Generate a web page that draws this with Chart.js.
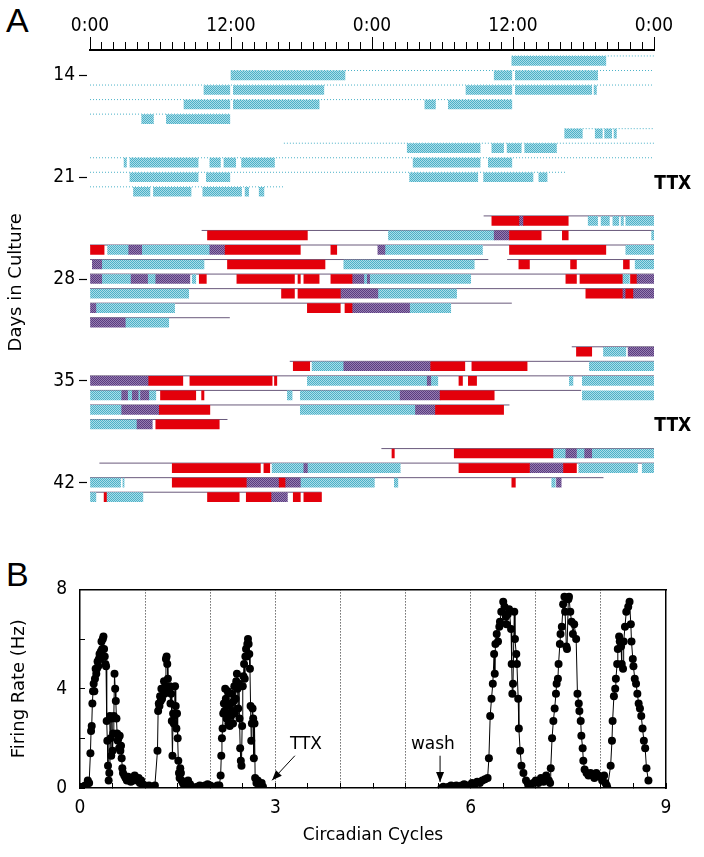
<!DOCTYPE html>
<html>
<head>
<meta charset="utf-8">
<script src="https://cdn.jsdelivr.net/npm/chart.js@4.4.1/dist/chart.umd.min.js"></script>
<style>
  body { margin: 0; background: #fff; }
  #wrap { position: relative; width: 704px; height: 857px; overflow: hidden; }
  canvas { position: absolute; left: 0; }
  .panel { position: absolute; left: 6px; font: 34px 'Liberation Sans', Arial, sans-serif; line-height: 34px; color: #000; }
</style>
</head>
<body>
<div id="wrap">
  <div class="panel" style="top:3px">A</div>
  <div class="panel" style="top:557px">B</div>
  <canvas id="acto" width="704" height="530" style="top:0"></canvas>
  <canvas id="rate" width="704" height="297" style="top:560px"></canvas>
</div>
<script>
// ---- Panel A: double-plotted actogram, [day, start hour, end hour] ----
const hourTicks = [0, 12, 24, 36, 48];
const timeLabels = ['0:00', '12:00', '0:00', '12:00', '0:00'];
const dayTicks = [14, 21, 28, 35, 42];

const cyanBars = [
  [13,35.9,43.9],
  [14,12,21.7],[14,34.4,35.9],[14,36.2,43.2],
  [15,9.7,11.9],[15,12.2,19.9],[15,32,35.9],[15,36.2,42.7],[15,42.9,43.1],
  [16,8,11.9],[16,12.2,19.5],[16,28.5,29.4],[16,30.5,35.9],
  [17,4.4,5.4],[17,6.5,11.9],
  [18,40.4,41.9],[18,43,43.6],[18,43.8,44.4],[18,44.6,44.8],
  [19,27,33.2],[19,34.2,35.2],[19,35.5,36.7],[19,37,39.7],
  [20,2.9,3.1],[20,3.4,9.2],[20,10.2,11.1],[20,11.4,12.4],[20,12.9,15.7],[20,27.5,33.2],[20,33.9,35.9],
  [21,3.4,9.2],[21,9.9,11.9],[21,27.2,33],[21,33.5,37.7],[21,38.2,38.9],
  [22,3.7,5.1],[22,5.4,8.6],[22,9.6,12.9],[22,13.2,13.5],[22,14.4,14.8],
  [24,42.4,43.2],[24,43.5,44.2],[24,44.5,45],[24,45.2,45.4],[24,45.6,48],
  [25,25.4,34.4],[25,47.8,48],
  [26,1.5,3.3],[26,4.4,10.2],[26,25.1,33.4],[26,45.6,48],
  [27,1,9.7],[27,21.6,32.7],[27,46.4,48],
  [28,1,3.5],[28,4.9,5.6],[28,8.7,9],[28,23.3,23.6],[28,23.8,32.4],[28,45.3,45.9],
  [29,0,8.4],[29,24.5,31.2],
  [30,0.5,7.2],[30,27.2,30.7],
  [31,3,6.7],
  [33,43.7,45.6],
  [34,18.9,21.6],[34,42.5,48],
  [35,18.5,28.7],[35,29,29.6],[35,40.8,41.1],[35,41.9,48],
  [36,0,2.7],[36,3.2,3.6],[36,4.1,4.3],[36,5,5.6],[36,16.8,17.2],[36,17.9,26.4],[36,41.9,48],
  [37,0,2.7],[37,17.9,27.7],
  [38,0,4],
  [40,39.4,40.5],[40,41.4,42.1],[40,42.7,48],
  [41,15.5,18.2],[41,18.5,26.4],[41,41.6,46.6],[41,47,48],
  [42,0,2.6],[42,2.8,2.9],[42,17.9,24.2],[42,25.9,26.2],[42,39.3,39.6],
  [43,0,0.5],[43,1.4,4.5]
];

const purpleBars = [
  [24,36.5,36.9],
  [25,34.4,35.7],
  [26,3.3,4.4],[26,10.2,11.5],[26,24.5,25.1],
  [27,0.2,1],
  [28,0,1],[28,3.5,4.9],[28,5.6,8.5],[28,22.3,23.3],[28,23.6,23.8],[28,46.5,48],
  [29,21.3,24.5],[29,45.3,45.6],[29,46.2,48],
  [30,0,0.5],[30,22.3,27.2],
  [31,0,3],
  [33,45.8,48],
  [34,21.6,29],
  [35,0,5],[35,28.7,29],
  [36,2.7,3.2],[36,3.6,4.1],[36,4.3,5],[36,26.4,29.8],
  [37,2.7,5.9],[37,27.7,29.4],
  [38,4,5.3],
  [40,40.5,41.4],[40,42.1,42.7],
  [41,18.2,18.5],[41,37.4,40.3],
  [42,13.3,16.1],[42,16.6,17.9],[42,39.7,40.1],
  [43,15.4,16.8]
];

const redBars = [
  [24,34.2,36.5],[24,36.9,40.7],
  [25,10,18.5],[25,35.7,38.4],[25,40.2,40.7],
  [26,0,1.2],[26,11.5,17.9],[26,20.5,21],[26,35.7,43.9],
  [27,11.7,20],[27,36.5,37.4],[27,40.9,41.4],[27,45.4,45.9],
  [28,9.3,9.9],[28,12.5,17.4],[28,17.7,17.9],[28,18.2,19.5],[28,20.5,22.3],[28,40.5,41.4],[28,41.7,45.3],[28,46,46.5],
  [29,16.3,17.4],[29,17.7,21.3],[29,42.2,45.3],[29,45.6,46.2],
  [30,18.5,21.3],[30,21.7,22.3],
  [33,41.4,42.7],
  [34,17.3,18.7],[34,29,31.9],[34,32.5,37.2],
  [35,5,7.9],[35,8.5,15.5],[35,15.7,15.9],[35,31.4,31.7],[35,32.2,32.9],
  [36,6,9],[36,9.5,9.7],[36,29.8,34.4],
  [37,5.9,10.2],[37,29.4,35.2],
  [38,5.6,11],
  [40,25.7,25.9],[40,31,39.4],
  [41,7,14.5],[41,14.8,15.3],[41,31.4,37.4],[41,40.3,41.4],
  [42,7,13.3],[42,16.1,16.6],[42,35.9,36.2],
  [43,1.2,1.4],[43,10,12.7],[43,13.3,15.4],[43,17.3,17.9],[43,18.2,19.7]
];

// recording traces under each row
const dottedRows = [
  [13,35.9,48],[14,12,48],[15,0,48],[16,0,35.9],[17,0,11.9],
  [18,40.4,48],[19,16.5,48],[20,0,48],[21,0,40.5],[22,0,16.5]
];
const solidRows = [
  [24,33.5,48],[25,9.5,48],[26,0,48],[27,0,33.9],[27,35.5,48],[28,0,48],[29,0,48],[30,0,35.9],[31,0,11.9],
  [33,41,48],[34,17,48],[35,0,48],[36,0,41.8],[37,0,35.7],[38,0,11.7],
  [40,24.8,48],[41,0.8,48],[42,0,43.7],[43,0,19.7]
];
const ttxDays = [21.45, 38.1];

// ---- Panel B: firing rate ----
const cyclesPre = [0,0.02,0.04,0.06,0.08,0.1,0.12,0.14,0.16,0.17,0.18,0.19,0.2,0.21,0.22,0.23,0.24,0.25,0.26,0.27,0.28,0.29,0.3,0.31,0.32,0.33,0.34,0.35,0.36,0.37,0.38,0.39,0.4,0.41,0.42,0.43,0.44,0.45,0.46,0.47,0.48,0.49,0.5,0.51,0.52,0.53,0.54,0.55,0.56,0.57,0.58,0.59,0.6,0.61,0.62,0.63,0.64,0.65,0.66,0.68,0.7,0.72,0.74,0.76,0.78,0.8,0.82,0.84,0.86,0.88,0.9,0.92,0.94,0.96,0.98,1,1.03,1.06,1.09,1.12,1.15,
  1.19,1.2,1.21,1.22,1.23,1.24,1.25,1.26,1.27,1.28,1.29,1.3,1.31,1.32,1.33,1.34,1.35,1.36,1.37,1.38,1.39,1.4,1.41,1.42,1.43,1.44,1.45,1.46,1.47,1.48,1.49,1.5,1.51,1.52,1.53,1.54,1.55,1.56,1.58,1.6,1.63,1.66,1.69,1.72,1.76,1.8,1.84,1.88,1.92,1.96,2,2.04,2.08,2.11,2.14,
  2.16,2.17,2.18,2.19,2.2,2.21,2.22,2.23,2.24,2.25,2.26,2.27,2.28,2.29,2.3,2.31,2.32,2.33,2.34,2.35,2.36,2.37,2.38,2.39,2.4,2.41,2.42,2.43,2.44,2.45,2.46,2.47,2.48,2.49,2.5,2.51,2.52,2.53,2.54,2.55,2.56,2.57,2.58,2.59,2.6,2.61,2.62,2.63,2.64,2.65,2.66,2.67,2.68,2.69,2.71,2.73,2.75,2.77,2.79,2.81];
const ratePre = [0,0,0.05,0,0.1,0.05,0.3,0.2,1.4,2.3,2.5,3.4,3.9,4.2,3.9,4.4,4.8,4.6,4.8,5.1,4.9,5.2,5.4,5.2,5.5,5.9,5.6,6,6.1,5.6,5.3,5,4.9,2.7,1.9,0.9,0.3,0.6,2.9,2,1.3,2.8,1.5,2.2,2.9,4.6,4,3.5,2.8,2.2,1.9,2,1.6,2.1,1.5,1.7,1.2,0.8,0.6,0.5,0.4,0.3,0.45,0.3,0.25,0.4,0.3,0.5,0.4,0.3,0.4,0.2,0.3,0.15,0.1,0.1,0.05,0.1,0,0.05,0.1,
  1.5,3.1,3.4,3.3,3.7,3.5,4,3.6,4,3.9,4.3,3.8,4.1,5.2,5.3,5,4.4,4,3.9,4.1,3.4,3.8,2.7,1.3,3,2.6,2.9,4.1,3.3,2.4,3,2,1.1,0.6,0.4,0.8,0.6,0.3,0.2,0.1,0.2,0.3,0.15,0.05,0,0.05,0.1,0.05,0.1,0.15,0.1,0.05,0,0.1,0.1,
  0.5,1.3,2,2.4,3,3.4,3.1,4,3.6,2.8,3.3,3.9,2.6,3,2.5,3.4,2.9,3.8,3.1,2.6,3.5,4.1,3,3.6,4.3,4.6,4,3.2,4.2,2.8,1.6,1.1,0.9,2.5,4.1,4.5,5,4.4,5.3,5.6,5.3,5.8,6,5.8,5.4,4.8,3.3,1.9,2.6,3.2,2.8,1.2,2.6,0.4,0.2,0.3,0.1,0,0.2,0.05];
const cyclesPost = [5.55,5.58,5.62,5.66,5.7,5.74,5.78,5.82,5.86,5.9,5.94,5.98,6.02,6.06,6.1,6.14,6.18,6.22,6.26,
  6.28,6.3,6.32,6.34,6.36,6.37,6.38,6.4,6.42,6.44,6.45,6.47,6.5,6.52,6.54,6.55,6.57,6.59,6.62,6.63,6.64,6.65,6.67,6.68,6.7,6.71,6.73,6.74,6.76,6.78,6.81,6.85,6.88,6.92,6.96,7,7.04,7.08,7.12,7.16,7.2,7.22,
  7.23,7.25,7.27,7.29,7.31,7.32,7.34,7.35,7.37,7.38,7.4,7.42,7.44,7.45,7.47,7.48,7.5,7.51,7.53,7.55,7.57,7.59,7.62,7.64,7.66,7.67,7.69,7.7,7.72,7.73,7.75,7.78,7.81,7.84,7.87,7.9,7.93,7.96,7.99,8.02,8.05,8.07,8.09,8.1,
  8.15,8.17,8.18,8.2,8.22,8.23,8.25,8.26,8.28,8.29,8.31,8.32,8.34,8.35,8.37,8.39,8.42,8.44,8.46,8.47,8.49,8.5,8.52,8.54,8.56,8.58,8.6,8.62,8.64,8.66,8.68,8.7,8.73];
const ratePost = [0,0.05,0,0.05,0.1,0.05,0.1,0.05,0.1,0.15,0.1,0.1,0.2,0.15,0.25,0.2,0.3,0.35,0.4,
  1.2,2.9,3.6,4.2,5.4,4.6,5.8,6.2,5.9,6.5,6.7,7.1,7.5,7.3,6.9,6.6,7,7.2,6.4,5,3.8,4.2,7.1,6,5.4,5,3.6,2.4,1.5,0.9,0.6,0.3,0.15,0.1,0.2,0.3,0.2,0.4,0.25,0.5,0.3,0.2,
  0.8,2,2.7,3.2,3.8,4.2,4.4,5,5.8,6.2,6.5,7.4,7.7,7.1,5.7,5.6,7.6,7.7,7.1,6.7,6.2,6.6,6,3.8,3.4,3.1,2.7,2.1,1.6,1.1,0.75,0.6,0.5,0.6,0.55,0.4,0.6,0.5,0.45,0.3,0.5,0.2,0.1,0,
  0.9,1.9,2.7,3.7,4,4.4,5,5.6,6.1,5.9,5.7,5,4.8,5.9,6.5,7.1,7.3,7.5,6.6,5.9,5.2,4.9,4.4,4.2,3.8,3.4,3.2,2.9,2.4,1.9,1.6,0.8,0.3];
const rateNotes = [
  { text: 'TTX', tx: 3.47, ty: 1.73, from: [3.30, 1.30], to: [2.95, 0.31] },
  { text: 'wash', tx: 5.42, ty: 1.73, from: [5.53, 1.30], to: [5.53, 0.24] }
];

const narrow = "'Liberation Sans Narrow', 'DejaVu Sans Condensed', sans-serif";
const verdanaLike = "'DejaVu Sans', Verdana, sans-serif";
Chart.defaults.color = '#000';
Chart.defaults.animation = false;

function dither(c1, c2) {
  const p = document.createElement('canvas');
  p.width = 2; p.height = 2;
  const g = p.getContext('2d');
  g.fillStyle = c2; g.fillRect(0, 0, 2, 2);
  g.fillStyle = c1; g.fillRect(0, 0, 1, 1); g.fillRect(1, 1, 1, 1);
  return g.createPattern(p, 'repeat');
}

const toBars = rows => rows.map(r => ({ x: [r[1], r[2]], y: r[0] }));
// trace line sits along the top edge of each row's bars
const toTrace = rows => {
  const out = [];
  rows.forEach(r => {
    out.push({ x: r[1], y: r[0] - 0.34 }, { x: r[2], y: r[0] - 0.34 }, { x: NaN, y: NaN });
  });
  return out;
};

function barSet(rows, fill, order) {
  return {
    type: 'bar', data: toBars(rows), indexAxis: 'y', grouped: false,
    barThickness: 9, backgroundColor: fill, borderWidth: 0, order: order,
    xAxisID: 'x', yAxisID: 'y'
  };
}

const ttxLabels = {
  id: 'ttxLabels',
  afterDraw(chart) {
    const { ctx, scales } = chart;
    ctx.save();
    ctx.font = "bold 19px " + narrow;
    ctx.fillStyle = '#000';
    ctx.textAlign = 'center';
    ctx.textBaseline = 'middle';
    ttxDays.forEach(d => ctx.fillText('TTX', scales.x.getPixelForValue(49.6), scales.y.getPixelForValue(d)));
    ctx.restore();
  }
};

new Chart(document.getElementById('acto'), {
  type: 'bar',
  data: {
    datasets: [
      barSet(redBars, '#e3000b', 1),
      barSet(purpleBars, dither('#5a3c80', '#957db0'), 2),
      barSet(cyanBars, dither('#4cb2c8', '#acdce8'), 3),
      { type: 'line', data: toTrace(dottedRows), borderColor: '#4cb2c8', borderWidth: 1, borderDash: [1, 2],
        pointRadius: 0, spanGaps: false, order: 4, xAxisID: 'x', yAxisID: 'y' },
      { type: 'line', data: toTrace(solidRows), borderColor: '#6a5a7c', borderWidth: 1, pointRadius: 0,
        spanGaps: false, order: 4, xAxisID: 'x', yAxisID: 'y' }
    ]
  },
  options: {
    responsive: false,
    layout: { padding: { left: 0, top: 0, right: 50, bottom: 10 } },
    plugins: { legend: { display: false }, tooltip: { enabled: false } },
    scales: {
      x: {
        type: 'linear', position: 'top', min: 0, max: 48, offset: false, weight: 0,
        ticks: { display: false, stepSize: 1, autoSkip: false },
        grid: { offset: false, drawOnChartArea: false, tickLength: 8, tickColor: '#000', lineWidth: 1 },
        border: { display: true, color: '#000', width: 2 },
        afterFit: s => { s.height = 8; }
      },
      xMaj: {
        type: 'linear', position: 'top', min: 0, max: 48, offset: false, weight: 1,
        afterBuildTicks: s => { s.ticks = hourTicks.map(v => ({ value: v })); },
        ticks: {
          autoSkip: false, maxRotation: 0, padding: 0,
          font: { family: narrow, size: 19 },
          callback: v => timeLabels[hourTicks.indexOf(v)]
        },
        grid: { offset: false, drawOnChartArea: false, tickLength: 5, tickColor: '#000', lineWidth: 1 },
        border: { display: false },
        afterFit: s => { s.height = 42; }
      },
      y: {
        type: 'linear', reverse: true, min: 12.25, max: 44.2, offset: false,
        afterBuildTicks: s => { s.ticks = dayTicks.map(v => ({ value: v })); },
        ticks: { padding: 4, font: { family: narrow, size: 19 } },
        grid: { offset: false, drawOnChartArea: false, tickLength: 11, tickColor: '#000', tickBorderDash: [8, 20], tickWidth: 1.2 },
        border: { display: false },
        title: { display: true, text: 'Days in Culture', font: { family: verdanaLike, size: 18 }, padding: { top: 6, bottom: 0 } },
        afterFit: s => { s.width = 90; }
      }
    }
  },
  plugins: [ttxLabels]
});

// ---- Panel B ----
const ratePoints = cyclesPre.map((c, i) => ({ x: c, y: ratePre[i] }))
  .concat([{ x: NaN, y: NaN }])
  .concat(cyclesPost.map((c, i) => ({ x: c, y: ratePost[i] })));

const arrowNotes = {
  id: 'arrowNotes',
  afterDatasetsDraw(chart) {
    const { ctx, scales: { x, y } } = chart;
    ctx.save();
    ctx.fillStyle = '#000';
    ctx.strokeStyle = '#000';
    ctx.lineWidth = 1;
    ctx.font = '17px ' + verdanaLike;
    ctx.textAlign = 'center';
    ctx.textBaseline = 'middle';
    rateNotes.forEach(n => {
      ctx.fillText(n.text, x.getPixelForValue(n.tx), y.getPixelForValue(n.ty));
      const x1 = x.getPixelForValue(n.from[0]), y1 = y.getPixelForValue(n.from[1]);
      const x2 = x.getPixelForValue(n.to[0]), y2 = y.getPixelForValue(n.to[1]);
      const a = Math.atan2(y2 - y1, x2 - x1);
      ctx.beginPath(); ctx.moveTo(x1, y1); ctx.lineTo(x2, y2); ctx.stroke();
      ctx.beginPath();
      ctx.moveTo(x2, y2);
      ctx.lineTo(x2 - 10 * Math.cos(a) + 4 * Math.sin(a), y2 - 10 * Math.sin(a) - 4 * Math.cos(a));
      ctx.lineTo(x2 - 10 * Math.cos(a) - 4 * Math.sin(a), y2 - 10 * Math.sin(a) + 4 * Math.cos(a));
      ctx.closePath(); ctx.fill();
    });
    ctx.restore();
  }
};

new Chart(document.getElementById('rate'), {
  type: 'line',
  data: {
    datasets: [{
      data: ratePoints, borderColor: '#000', borderWidth: 1, tension: 0, spanGaps: false,
      pointRadius: 4, pointBackgroundColor: '#000', pointBorderWidth: 0
    }]
  },
  options: {
    responsive: false,
    layout: { padding: { left: 0, top: 25, right: 38, bottom: 7 } },
    plugins: { legend: { display: false }, tooltip: { enabled: false } },
    scales: {
      x: {
        type: 'linear', min: 0, max: 9,
        ticks: {
          stepSize: 0.5, autoSkip: false, maxRotation: 0, padding: 14,
          font: { family: narrow, size: 19 },
          callback: v => (v % 3 === 0 ? String(v) : '')
        },
        grid: {
          color: c => (c.tick && Number.isInteger(c.tick.value) && c.tick.value > 0 && c.tick.value < 9) ? '#222' : 'rgba(0,0,0,0)',
          lineWidth: 1, tickLength: -5, tickColor: '#000', tickWidth: 1
        },
        border: { display: true, color: '#000', width: 1.5, dash: [1, 2] },
        title: { display: true, text: 'Circadian Cycles', font: { family: verdanaLike, size: 17 }, padding: { top: 0, bottom: 4 } },
        afterFit: s => { s.height = 62; }
      },
      y: {
        type: 'linear', min: 0, max: 8,
        ticks: {
          stepSize: 1, padding: 18, font: { family: narrow, size: 19 },
          callback: v => (v % 4 === 0 ? String(v) : '')
        },
        grid: { drawOnChartArea: false, tickLength: -5, tickColor: '#000', tickWidth: 1 },
        border: { display: true, color: '#000', width: 1.5 },
        title: { display: true, text: 'Firing Rate (Hz)', font: { family: verdanaLike, size: 18 }, padding: { top: 9, bottom: 0 } },
        afterFit: s => { s.width = 80; }
      },
      xTop: {
        type: 'linear', position: 'top', min: 0, max: 9,
        ticks: { display: false }, grid: { display: false },
        border: { display: true, color: '#000', width: 1.5 },
        afterFit: s => { s.height = 0; }
      },
      yRight: {
        type: 'linear', position: 'right', min: 0, max: 8,
        ticks: { display: false }, grid: { display: false },
        border: { display: true, color: '#000', width: 1.5 },
        afterFit: s => { s.width = 0; }
      }
    }
  },
  plugins: [arrowNotes]
});
</script>
</body>
</html>
